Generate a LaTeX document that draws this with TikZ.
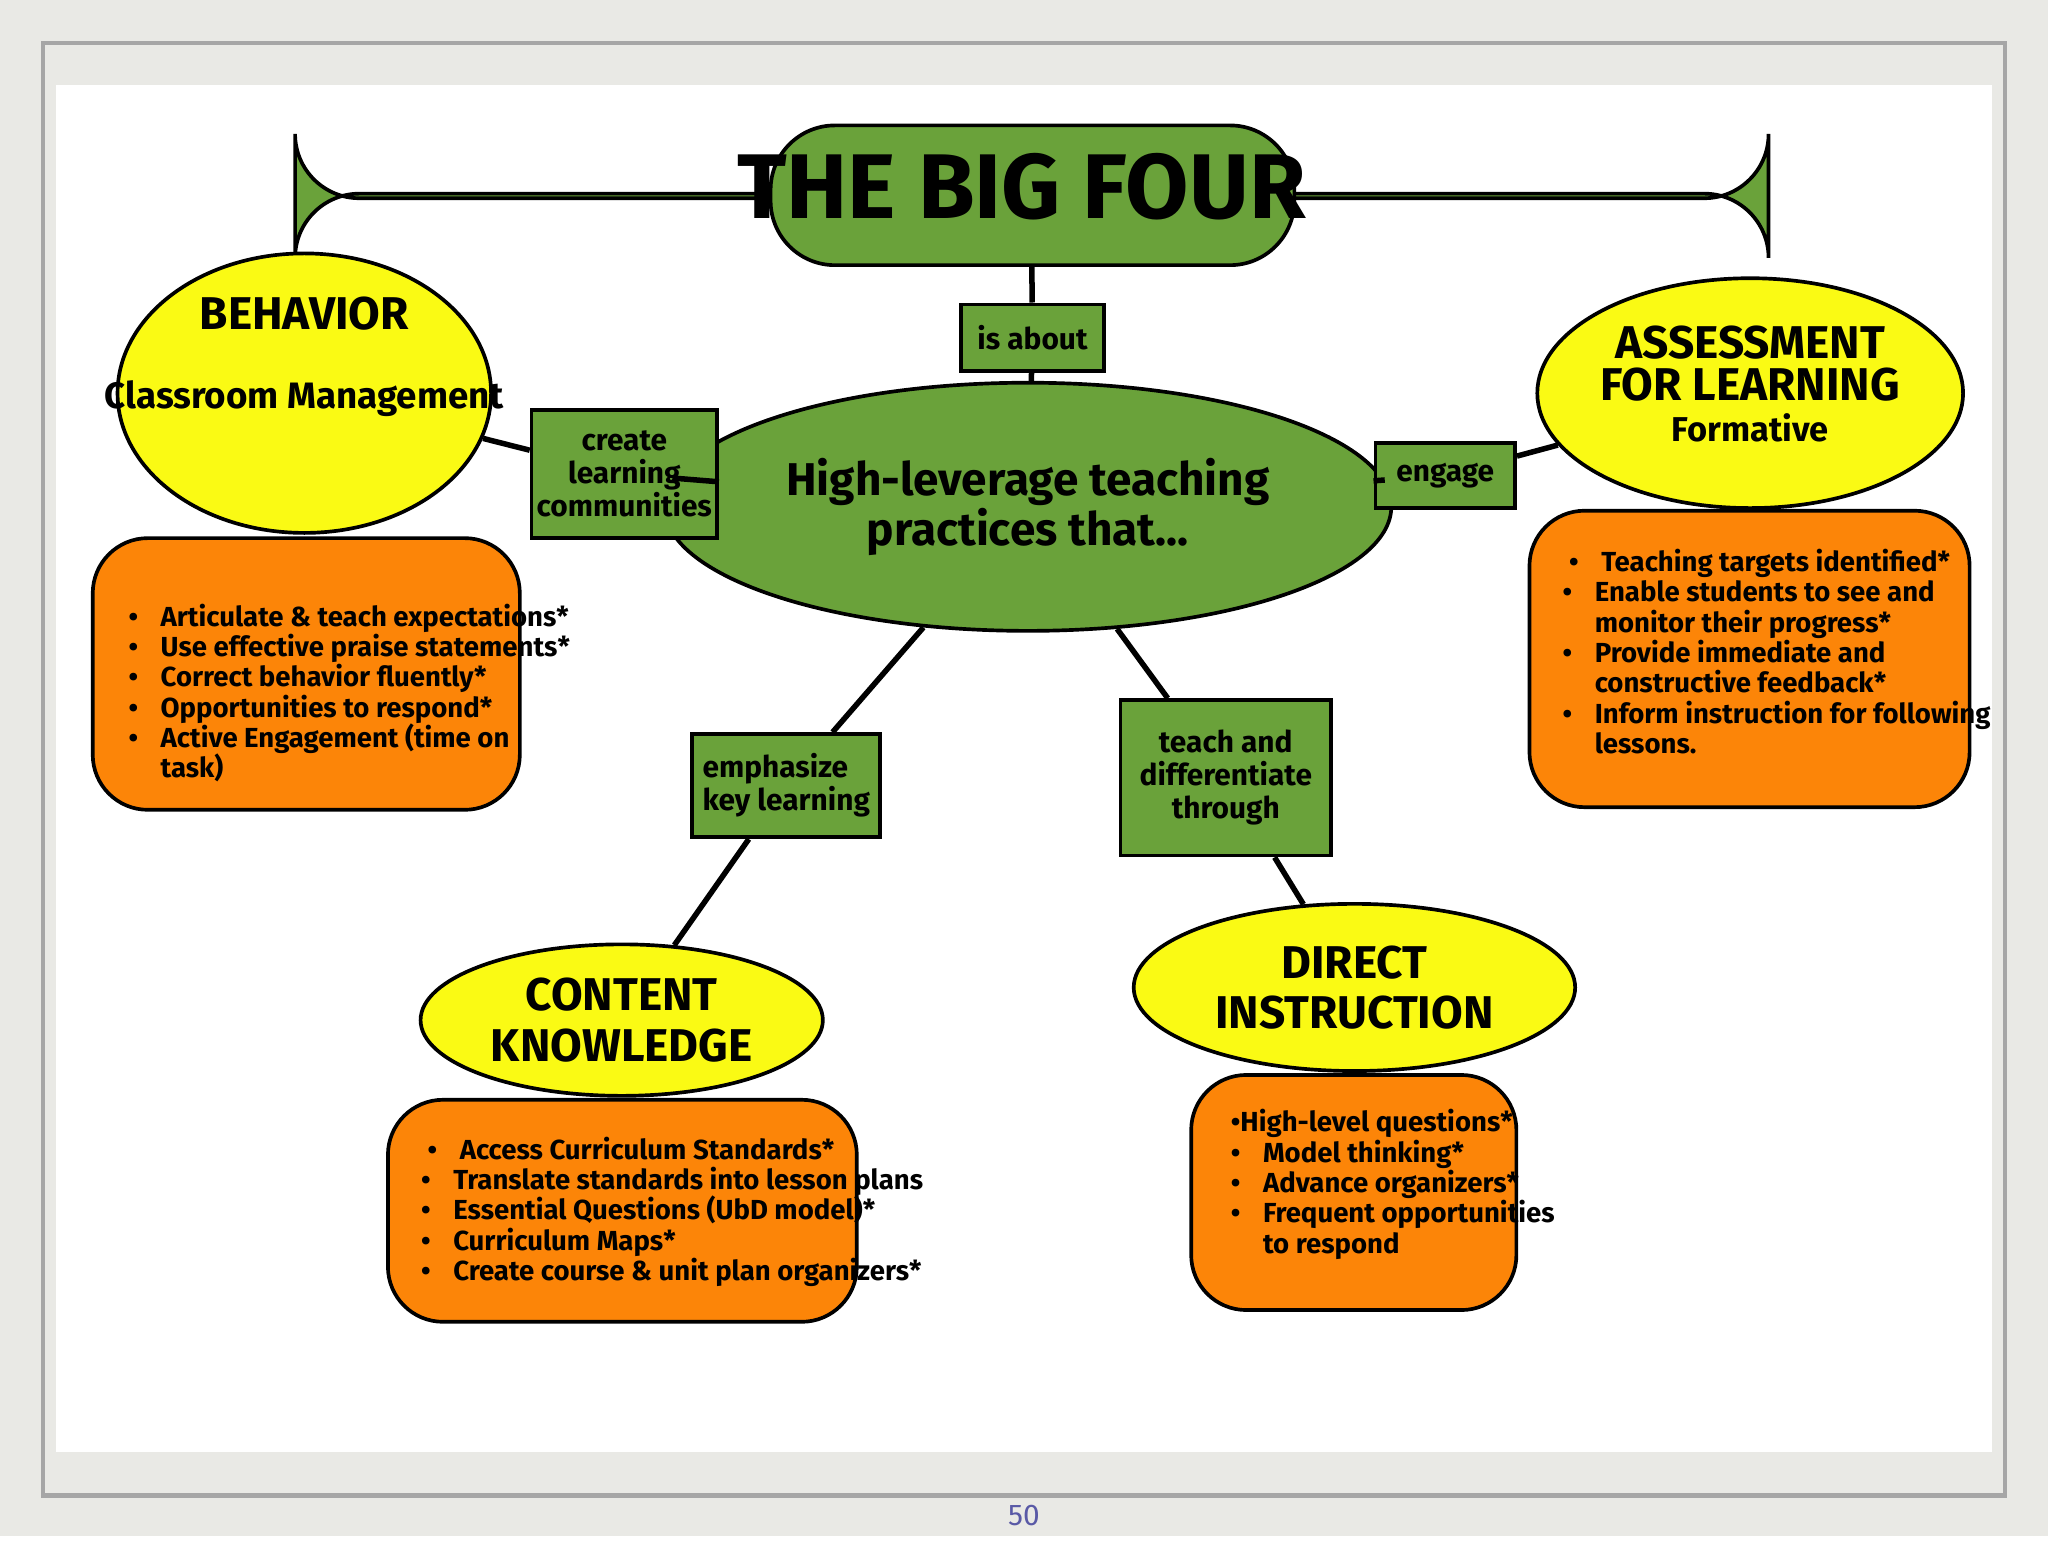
\documentclass[tikz,border=0pt]{standalone}
\usepackage{fontspec}
\setmainfont{Fira Sans}
\usetikzlibrary{shapes.geometric}
\definecolor{gr}{HTML}{6AA23A}
\definecolor{ye}{HTML}{FAFA14}
\definecolor{orn}{HTML}{FC8508}
\definecolor{bg}{HTML}{E9E9E5}
\newcommand{\bi}{\makebox[7pt][l]{\textbullet}}
\newcommand{\ind}{\hspace*{7pt}}
\tikzset{
 gbox/.style={draw=black, fill=gr, line width=0.8pt, align=center, font=\fontsize{6.5}{7.2}\selectfont\bfseries, inner sep=0pt},
 yell/.style={ellipse, draw=black, fill=ye, line width=0.8pt, align=center, inner sep=0pt},
 obox/.style={draw=black, fill=orn, line width=0.8pt, rounded corners=12pt, inner sep=0pt},
 otext/.style={align=left, font=\fontsize{6}{6.6}\selectfont\bfseries, anchor=north west},
 conn/.style={line width=1.2pt}
}
\begin{document}
\begin{tikzpicture}[x=0.01cm,y=-0.01cm]
\fill[bg] (0,0) rectangle (1568,1176);
\draw[gray!70, line width=1pt] (33,33) rectangle (1535,1145);
\fill[white] (43,65) rectangle (1525,1112);
\node[text=blue!30!gray] (pg) at (784,1160) {\fontsize{6.5}{7}\selectfont 50};

% title
\node[gbox, rounded corners=14pt, minimum width=401\pgflinewidth, font=\fontsize{20}{22}\selectfont\bfseries] (title) at (790,150) {};
\draw[draw=black, fill=gr, line width=0.8pt, rounded corners=14pt] (590,96) rectangle (991,203);
\node (tt) at (782,143) {\fontsize{20}{22}\selectfont\bfseries THE BIG FOUR};
\coordinate (tb) at (790,203);

\node[gbox, minimum width=109*0.01cm, minimum height=51*0.01cm] (about) at (790.5,258.5) {is about};
\node[ellipse, draw=black, fill=gr, line width=0.8pt, minimum width=440*0.01cm, minimum height=190*0.01cm, align=center, font=\fontsize{10}{11}\selectfont\bfseries] (center) at (787,388) {High-leverage teaching\\practices that...};

% behavior
\node[yell, minimum width=286*0.01cm, minimum height=214*0.01cm] (beh) at (233,301) {};
\node at (233,240) {\fontsize{10}{11}\selectfont\bfseries BEHAVIOR};
\node at (233,305) {\fontsize{8}{9}\selectfont\bfseries Classroom Management};
\node[gbox, minimum width=142*0.01cm, minimum height=98*0.01cm] (create) at (478,363) {create\\learning\\communities};
\draw[obox] (71,412) rectangle (398,620);
\node[otext] (bt) at (86,450) {\bi Articulate \& teach expectations*\\\bi Use effective praise statements*\\\bi Correct behavior fluently*\\\bi Opportunities to respond*\\\bi Active Engagement (time on\\\ind task)};

% assessment
\node[yell, minimum width=326*0.01cm, minimum height=176*0.01cm] (ass) at (1340,301) {};
\node at (1340,298) {\begin{tabular}{c}\fontsize{10}{12}\selectfont\bfseries ASSESSMENT\\[-3pt]\fontsize{10}{12}\selectfont\bfseries FOR LEARNING\\[-3pt]\fontsize{7.5}{9}\selectfont\bfseries Formative\end{tabular}};
\node[gbox, minimum width=107*0.01cm, minimum height=50*0.01cm] (engage) at (1106.5,364) {engage};
\draw[obox] (1171,391) rectangle (1508,618);
\node[otext] (at) at (1184,408) {\ \bi Teaching targets identified*\\\bi Enable students to see and\\\ind monitor their progress*\\\bi Provide immediate and\\\ind constructive feedback*\\\bi Inform instruction for following\\\ind lessons.};

% content
\node[gbox, minimum width=144*0.01cm, minimum height=79*0.01cm, align=left] (emph) at (602,601.5) {emphasize\\key learning};
\node[yell, minimum width=308*0.01cm, minimum height=116*0.01cm, font=\fontsize{10}{11}\selectfont\bfseries] (cont) at (476,781) {CONTENT\\KNOWLEDGE};
\draw[obox] (297,842) rectangle (656,1012);
\node[otext] (ct) at (310,858) {\ \bi Access Curriculum Standards*\\\bi Translate standards into lesson plans\\\bi Essential Questions (UbD model)*\\\bi Curriculum Maps*\\\bi Create course \& unit plan organizers*};

% direct
\node[gbox, minimum width=161*0.01cm, minimum height=119*0.01cm] (teach) at (938.5,595.5) {teach and\\differentiate\\through};
\node[yell, minimum width=338*0.01cm, minimum height=128*0.01cm, font=\fontsize{10}{11}\selectfont\bfseries] (dir) at (1037,756) {DIRECT\\INSTRUCTION};
\draw[obox] (912,823) rectangle (1161,1003);
\node[otext] (dt) at (930,837) {\textbullet High-level questions*\\\bi Model thinking*\\\bi Advance organizers*\\\bi Frequent opportunities\\\ind to respond};

% connectors
\draw[conn] (tb) -- (about);
\draw[conn] (about) -- (center);
\draw[conn] (beh) -- (create);
\draw[conn] (create) -- (center);
\draw[conn] (center) -- (engage);
\draw[conn] (engage) -- (ass);
\draw[conn] (center) -- (emph);
\draw[conn] (emph) -- (cont);
\draw[conn] (center) -- (teach);
\draw[conn] (teach) -- (dir);
\end{tikzpicture}
\end{document}
